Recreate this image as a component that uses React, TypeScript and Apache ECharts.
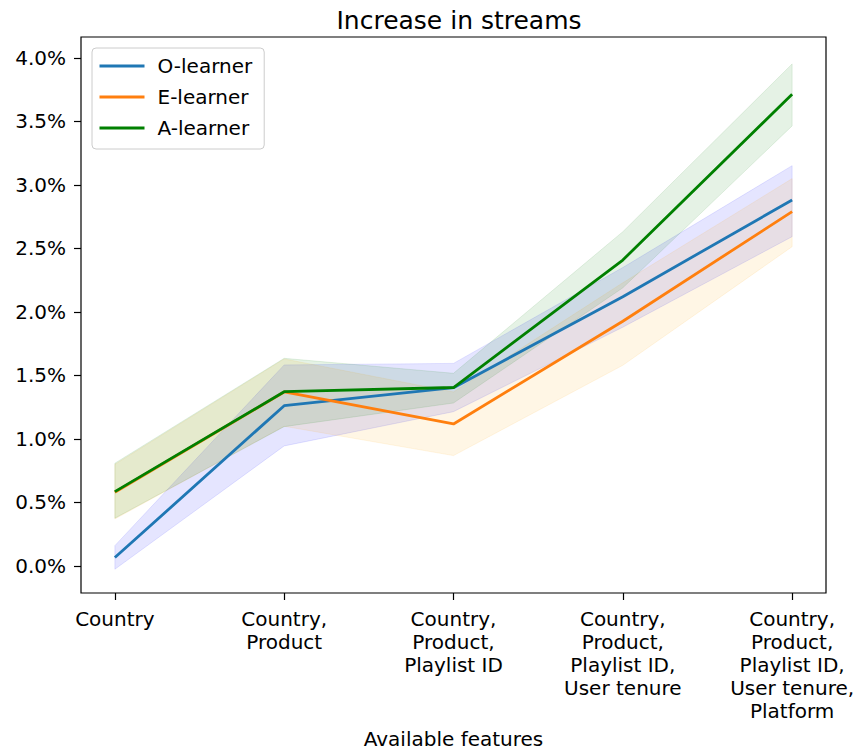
import React, { useEffect, useRef } from "react";
import * as echarts from "echarts";

const categories = [
  "Country",
  "Country,\nProduct",
  "Country,\nProduct,\nPlaylist ID",
  "Country,\nProduct,\nPlaylist ID,\nUser tenure",
  "Country,\nProduct,\nPlaylist ID,\nUser tenure,\nPlatform",
];
const yTicks = [0, 0.5, 1, 1.5, 2, 2.5, 3, 3.5, 4];

const oMean = [0.066, 1.262, 1.404, 2.12, 2.882];
const oLow = [-0.026, 0.945, 1.215, 1.88, 2.593];
const oHigh = [0.16, 1.583, 1.595, 2.35, 3.152];

const eMean = [0.58, 1.37, 1.118, 1.927, 2.79];
const eLow = [0.37, 1.1, 0.869, 1.58, 2.514];
const eHigh = [0.8, 1.63, 1.37, 2.23, 3.05];

const aMean = [0.585, 1.372, 1.405, 2.409, 3.714];
const aLow = [0.376, 1.097, 1.283, 2.19, 3.465];
const aHigh = [0.809, 1.635, 1.517, 2.632, 3.953];

const FONT = "DejaVu Sans";

function band(low: number[], high: number[], fill: string, stroke: string) {
  return {
    type: "custom",
    silent: true,
    z: 1,
    clip: true,
    data: low.map((v, i) => [i, v, high[i]]),
    encode: { x: 0, y: [1, 2] },
    renderItem: (params: any, api: any) => {
      if (params.dataIndex !== 0) return null;
      const pts: number[][] = [];
      for (let i = 0; i < high.length; i++) pts.push(api.coord([i, high[i]]));
      for (let i = low.length - 1; i >= 0; i--) pts.push(api.coord([i, low[i]]));
      return {
        type: "polygon",
        shape: { points: pts },
        style: { fill, stroke, lineWidth: 1 },
      };
    },
  };
}

function line(name: string, data: number[], color: string) {
  return {
    type: "line",
    name,
    data: data.map((v, i) => [i, v]),
    showSymbol: false,
    symbol: "none",
    lineStyle: { color, width: 2.8 },
    itemStyle: { color },
    z: 3,
  };
}

export default function App() {
  const ref = useRef<HTMLDivElement>(null);
  useEffect(() => {
    const chart = echarts.init(ref.current!, null, { renderer: "svg" });
    chart.setOption({
      animation: false,
      backgroundColor: "#fff",
      title: {
        text: "Increase in streams",
        left: 454,
        textAlign: "center",
        top: 3,
        textStyle: { fontFamily: FONT, fontSize: 25, fontWeight: "normal", color: "#000" },
      },
      grid: {
        left: 81,
        right: 34,
        top: 37,
        bottom: 159,
        show: true,
        outerBoundsMode: "none",
        containLabel: false,
        borderColor: "#000",
        borderWidth: 1.2,
        backgroundColor: "transparent",
      },
      legend: {
        data: ["O-learner", "E-learner", "A-learner"],
        orient: "vertical",
        left: 92,
        top: 48,
        itemWidth: 45,
        itemHeight: 14,
        itemGap: 11,
        padding: [8, 12, 11, 6],
        backgroundColor: "rgba(255,255,255,0.8)",
        borderColor: "#cccccc",
        borderWidth: 1,
        borderRadius: 4,
        itemStyle: { opacity: 0 },
        lineStyle: { width: 3 },
        textStyle: { fontFamily: FONT, fontSize: 20, color: "#000", padding: [0, 0, 0, 8] },
      },
      xAxis: {
        type: "value",
        min: -0.2,
        max: 4.2,
        name: "Available features",
        nameLocation: "middle",
        nameGap: 136,
        nameTextStyle: { fontFamily: FONT, fontSize: 20, color: "#000" },
        axisLine: { show: false, onZero: false },
        splitLine: { show: false },
        axisTick: {
          show: true,
          length: 7,
          customValues: [0, 1, 2, 3, 4],
          lineStyle: { color: "#000", width: 1.2 },
        },
        axisLabel: {
          customValues: [0, 1, 2, 3, 4],
          formatter: (v: number) => categories[Math.round(v)] ?? "",
          fontFamily: FONT,
          fontSize: 20,
          color: "#000",
          lineHeight: 23,
          margin: 14,
          align: "center",
        },
      },
      yAxis: {
        type: "value",
        min: -0.213,
        max: 4.165,
        axisLine: { show: false, onZero: false },
        splitLine: { show: false },
        axisTick: {
          show: true,
          length: 7,
          customValues: yTicks,
          lineStyle: { color: "#000", width: 1.2 },
        },
        axisLabel: {
          customValues: yTicks,
          formatter: (v: number) => v.toFixed(1) + "%",
          fontFamily: FONT,
          fontSize: 20,
          color: "#000",
          margin: 15,
        },
      },
      series: [
        band(oLow, oHigh, "rgba(0,0,255,0.1)", "rgba(0,0,255,0.1)"),
        band(eLow, eHigh, "rgba(255,165,0,0.1)", "rgba(255,165,0,0.1)"),
        band(aLow, aHigh, "rgba(0,128,0,0.1)", "rgba(0,128,0,0.1)"),
        line("O-learner", oMean, "#1f77b4"),
        line("E-learner", eMean, "#ff7f0e"),
        line("A-learner", aMean, "#008000"),
      ],
    });
    return () => chart.dispose();
  }, []);
  return (
    <div
      ref={ref}
      style={{ position: "fixed", left: 0, top: 0, width: 860, height: 752 }}
    />
  );
}
